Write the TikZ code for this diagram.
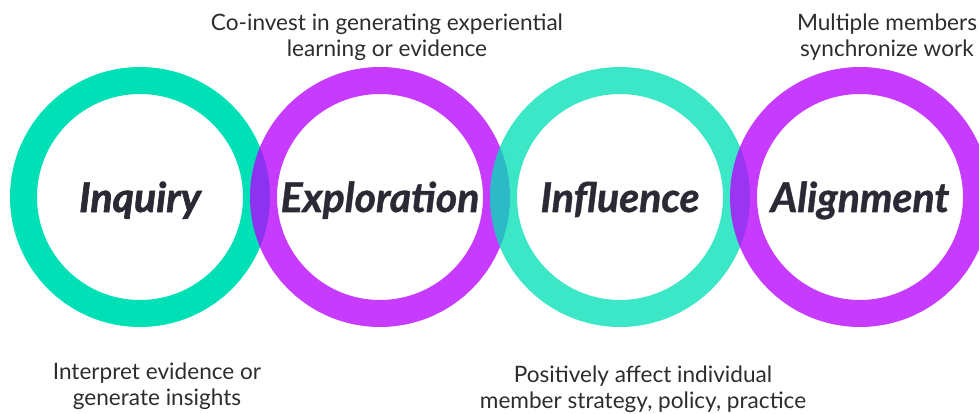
\documentclass[tikz,border=0pt]{standalone}
\usepackage{fontspec}
\setmainfont{Lato}
\usetikzlibrary{positioning}
\definecolor{ringteal}{RGB}{0,224,182}
\definecolor{ringpurple}{RGB}{182,0,255}
\definecolor{labelink}{RGB}{42,42,53}
\definecolor{descink}{RGB}{45,45,45}
\tikzset
{
    ring/.style    = {circle, draw=#1, line width=27pt, minimum size=233pt, inner sep=0pt, align=center,
                      text height=30pt, text depth=0pt, text=labelink,
                      font=\fontsize{41}{44}\selectfont\bfseries\itshape\addfontfeatures{FakeBold=1.6}},
    fadering/.style = {ring=#1, draw opacity=0.77},
    desc/.style    = {align=center, text=descink, font=\fontsize{22.6}{26.5}\selectfont}
}

\begin{document}
\begin{tikzpicture}[x=1pt, y=1pt]

	 \newcommand\TOPDY{160}
	 \newcommand\BOTDY{-189}

   \useasboundingbox (0, 0) rectangle (979, 413);

   \node (inquiry)     [ring=ringteal]         at (140, 216)     {Inquiry};
   \node (exploration) [fadering=ringpurple]   at (380, 216)     {Exploration};
   \node (influence)   [fadering=ringteal]     at (620, 216)     {Influence};
   \node (alignment)   [fadering=ringpurple]   at (860, 216)     {Alignment};

   \node (dinquiry)     [desc]  at ([shift=({17, \BOTDY})]inquiry)       {Interpret evidence or\\generate insights};
   \node (dexploration) [desc]  at ([shift=({7, \TOPDY})]exploration)    {Co-invest in generating experiential\\learning or evidence};
   \node (dinfluence)   [desc]  at ([shift=({23, \BOTDY-3})]influence)   {Positively affect individual\\member strategy, policy, practice};
   \node (dalignment)   [desc]  at ([shift=({27, \TOPDY})]alignment)     {Multiple members\\synchronize work};

\end{tikzpicture}
\end{document}
